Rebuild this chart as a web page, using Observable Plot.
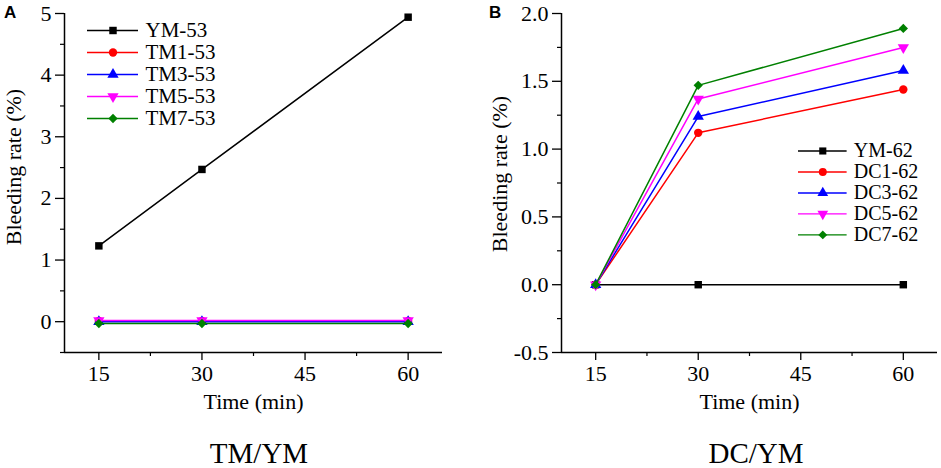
<!DOCTYPE html>
<html>
<head>
<meta charset="utf-8">
<script src="https://cdn.jsdelivr.net/npm/d3@7"></script>
<script src="https://cdn.jsdelivr.net/npm/@observablehq/plot@0.6"></script>
<style>
  html, body { margin: 0; padding: 0; background: #fff; }
  #fig { position: relative; width: 941px; height: 468px; background: #fff; font-family: "Liberation Serif", serif; overflow: hidden; }
  #fig svg, #fig svg g, #fig svg text { font-family: "Liberation Serif", serif !important; }
  .abs { position: absolute; }
  .panel-letter { font-family: "Liberation Sans", Arial, sans-serif; font-weight: bold; font-size: 17px; line-height: 17px; color: #000; }
  .panel-title { font-size: 29px; line-height: 22px; height: 22px; color: #000; width: 240px; text-align: center; white-space: nowrap; }
</style>
</head>
<body>
<div id="fig">
  <div id="pa" class="abs" style="left:0;top:0"></div>
  <div id="pb" class="abs" style="left:470px;top:0"></div>
  <div id="la" class="abs" style="left:87px;top:0"></div>
  <div id="lb" class="abs" style="left:798px;top:120px"></div>
  <div class="abs panel-letter" style="left:4px;top:4px">A</div>
  <div class="abs panel-letter" style="left:489px;top:4px">B</div>
  <div class="abs panel-title" style="left:139px;top:442px">TM/YM</div>
  <div class="abs panel-title" style="left:636px;top:442px">DC/YM</div>
</div>
<script>
// ---- data ----
const times = [15, 30, 60];

// Panel A (TM/YM)
const namesA = ["YM-53", "TM1-53", "TM3-53", "TM5-53", "TM7-53"];
const ym53 = [1.23, 2.47, 4.94];
const tm1_53 = [0.01, 0.01, 0.01];
const tm3_53 = [0.0, 0.0, 0.0];
const tm5_53 = [0.02, 0.02, 0.02];
const tm7_53 = [-0.03, -0.03, -0.03];
const valuesA = [ym53, tm1_53, tm3_53, tm5_53, tm7_53];

// Panel B (DC/YM)
const namesB = ["YM-62", "DC1-62", "DC3-62", "DC5-62", "DC7-62"];
const ym62 = [0, 0, 0];
const dc1_62 = [0, 1.12, 1.44];
const dc3_62 = [0, 1.24, 1.58];
const dc5_62 = [0, 1.37, 1.75];
const dc7_62 = [0, 1.47, 1.89];
const valuesB = [ym62, dc1_62, dc3_62, dc5_62, dc7_62];

// tick values
const xTicks = [15, 30, 45, 60];
const xMinor = [22.5, 37.5, 52.5];
const yTicksA = [0, 1, 2, 3, 4, 5];
const yMinorA = [-0.5, 0.5, 1.5, 2.5, 3.5, 4.5];
const yTicksB = [-0.5, 0, 0.5, 1.0, 1.5, 2.0];
const yMinorB = [-0.25, 0.25, 0.75, 1.25, 1.75];

// ---- styles ----
const colors = ["#000000", "#ff0000", "#0000ff", "#ff00ff", "#008000"];
const sqrt3 = Math.sqrt(3);
const triangleDown = {
  draw(context, size) {
    const y = -Math.sqrt(size / (sqrt3 * 3));
    context.moveTo(0, -y * 2);
    context.lineTo(-sqrt3 * y, y);
    context.lineTo(sqrt3 * y, y);
    context.closePath();
  }
};
const symbols = ["square", "circle", "triangle", triangleDown, "diamond2"];
const font = "Liberation Serif";

function seriesMarks(names, values) {
  const marks = [];
  names.forEach((name, i) => {
    const rows = times.map((t, j) => ({t, v: values[i][j]}));
    marks.push(Plot.line(rows, {x: "t", y: "v", stroke: colors[i], strokeWidth: 1.5}));
    marks.push(Plot.dot(rows, {x: "t", y: "v", symbol: symbols[i], fill: colors[i], stroke: "none", r: 4.2}));
  });
  return marks;
}

function panel({names, values, yDomain, yTicks, yMinor, yFmt, marginLeft, marginRight, width, ylabDx, ylabDy}) {
  return Plot.plot({
    width, height: 420,
    marginLeft, marginRight, marginTop: 13, marginBottom: 68,
    style: {fontFamily: font, fontSize: "22px", color: "#000", background: "transparent", overflow: "visible"},
    x: {domain: [10, 65]},
    y: {domain: yDomain},
    marks: [
      Plot.axisX({ticks: xTicks, tickSize: 8, tickPadding: 5, tickFormat: d => String(d), label: null, strokeWidth: 1.3, fontSize: 22, fontFamily: font}),
      Plot.axisX({ticks: xMinor, tickSize: 4, tickFormat: () => "", label: null, strokeWidth: 1.2}),
      Plot.axisY({ticks: yTicks, tickSize: 9, tickPadding: 4, tickFormat: yFmt, label: null, strokeWidth: 1.3, fontSize: 22, fontFamily: font}),
      Plot.axisY({ticks: yMinor, tickSize: 4, tickFormat: () => "", label: null, strokeWidth: 1.2}),
      Plot.ruleX([10], {stroke: "#000", strokeWidth: 1.5}),
      Plot.ruleY([yDomain[0]], {stroke: "#000", strokeWidth: 1.5}),
      ...seriesMarks(names, values),
      Plot.text(["Time (min)"], {frameAnchor: "bottom", textAnchor: "middle", lineAnchor: "middle", dy: 49, fontSize: 22, fontFamily: font, fill: "#000"}),
      Plot.text(["Bleeding rate (%)"], {frameAnchor: "left", textAnchor: "middle", lineAnchor: "middle", rotate: -90, dx: ylabDx, dy: ylabDy, fontSize: 22, fontFamily: font, fill: "#000"})
    ]
  });
}

function legend(names, yRange) {
  const marks = [];
  names.forEach((name, i) => {
    marks.push(Plot.ruleY([name], {y: d => d, x1: 0, x2: 51, stroke: colors[i], strokeWidth: 1.5}));
    marks.push(Plot.dot([name], {x: 25.5, y: d => d, symbol: symbols[i], fill: colors[i], stroke: "none", r: 4.2}));
    marks.push(Plot.text([name], {x: 58, y: d => d, text: d => d, textAnchor: "start", lineAnchor: "middle", fontSize: 21, fontFamily: font, fill: "#000"}));
  });
  return Plot.plot({
    width: 150, height: 150,
    margin: 0,
    style: {fontFamily: font, fontSize: "21px", background: "transparent", overflow: "visible"},
    x: {domain: [0, 150], range: [0, 150], axis: null},
    y: {type: "point", domain: names, range: yRange, axis: null},
    marks
  });
}

document.getElementById("pa").append(panel({
  names: namesA, values: valuesA, yDomain: [-0.5, 5], yTicks: yTicksA, yMinor: yMinorA,
  yFmt: d => String(d), marginLeft: 64, marginRight: 28, width: 470, ylabDx: -51, ylabDy: -16
}));
document.getElementById("pb").append(panel({
  names: namesB, values: valuesB, yDomain: [-0.5, 2.0], yTicks: yTicksB, yMinor: yMinorB,
  yFmt: d => d.toFixed(1), marginLeft: 91, marginRight: 4, width: 471, ylabDx: -62, ylabDy: -9
}));
document.getElementById("la").append(legend(namesA, [19, 129]));
document.getElementById("lb").append(legend(namesB, [20, 131]));
</script>
</body>
</html>
